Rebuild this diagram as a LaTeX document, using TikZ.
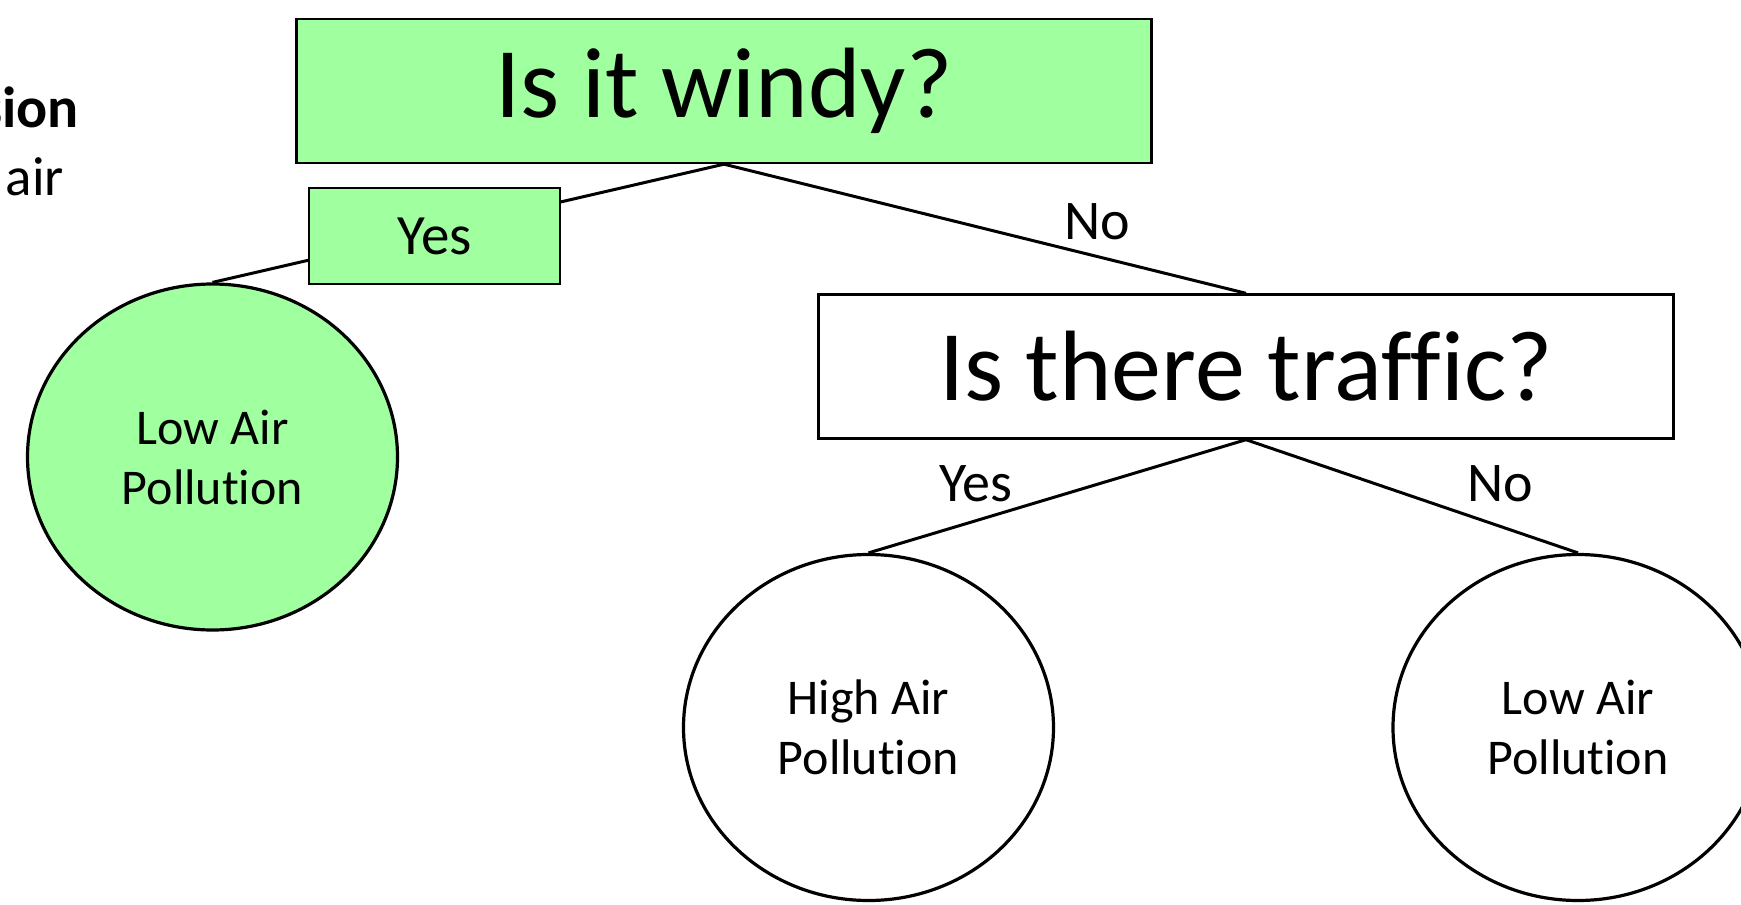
\documentclass[tikz,border=0pt]{standalone}
\usepackage{fontspec}
\setmainfont{Carlito}[Ligatures={NoCommon,NoRequired,NoContextual}]
\usetikzlibrary{shapes.geometric}
\definecolor{leafgreen}{RGB}{160,255,158}
\tikzset{
  qbox/.style={draw=black, line width=2.4pt, minimum width=855pt, minimum height=144pt, inner sep=0pt, font=\fontsize{100}{120}\selectfont},
  ansbox/.style={draw=black, line width=2.4pt, fill=leafgreen, minimum width=251pt, minimum height=96pt, inner sep=0pt, font=\fontsize{57}{68}\selectfont},
  leaf/.style={draw=black, line width=3.2pt, ellipse, minimum width=370pt, minimum height=346pt, inner sep=0pt, align=center, font=\fontsize{50}{60}\selectfont},
  edge/.style={line width=3pt},
  lbl/.style={font=\fontsize{56}{67}\selectfont, inner sep=0pt}
}
\begin{document}
\begin{tikzpicture}[x=1pt,y=-1pt]
\useasboundingbox (0,0) rectangle (1741,905);
\node[qbox, fill=leafgreen] (windy) at (724,91) {Is it windy?};
\node[qbox, fill=white] (traffic) at (1246,366.5) {Is there traffic?};
\node[leaf, fill=leafgreen] (low1) at (212.5,457) {Low Air\\Pollution};
\node[leaf, fill=white] (high) at (868.5,727.5) {High Air\\Pollution};
\node[leaf, fill=white] (low2) at (1578,727.5) {Low Air\\Pollution};
\draw[edge] (windy.south) -- (low1.north);
\draw[edge] (windy.south) -- (traffic.north);
\draw[edge] (traffic.south) -- (high.north);
\draw[edge] (traffic.south) -- (low2.north);
\node[ansbox] (yes1) at (434.5,236) {Yes};
\node[lbl] (no1) at (1097,222) {No};
\node[lbl] (yes2) at (976,484) {Yes};
\node[lbl] (no2) at (1500,484) {No};
\node[anchor=base east, inner sep=0pt, font=\fontsize{58}{70}\selectfont\bfseries] (head) at (79,127) {sion};
\node[anchor=base east, inner sep=0pt, font=\fontsize{55}{66}\selectfont] (sub) at (64,195) {air};
\end{tikzpicture}
\end{document}
